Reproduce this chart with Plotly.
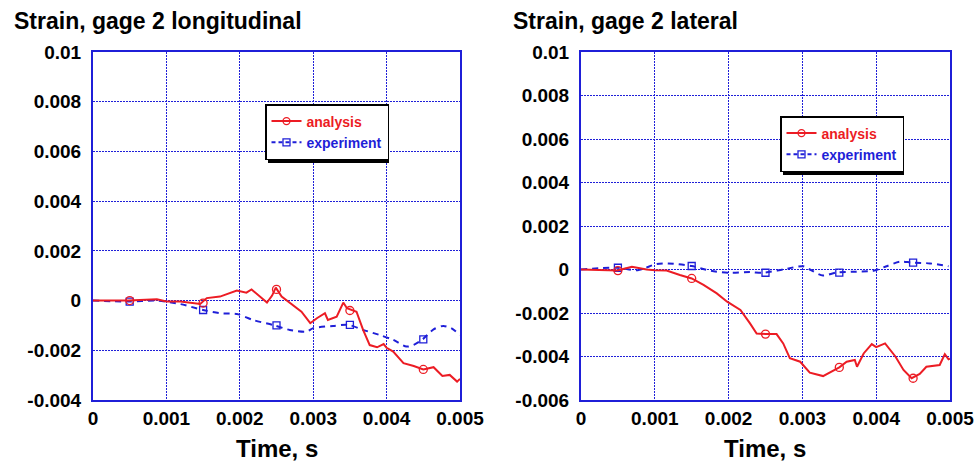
import plotly.graph_objects as go

# ---------------- data ----------------
x_tickvals = [0, 0.001, 0.002, 0.003, 0.004, 0.005]
x_ticktext = ["0", "0.001", "0.002", "0.003", "0.004", "0.005"]
yl_tickvals = [-0.004, -0.002, 0, 0.002, 0.004, 0.006, 0.008, 0.01]
yl_ticktext = ["-0.004", "-0.002", "0", "0.002", "0.004", "0.006", "0.008", "0.01"]
yr_tickvals = [-0.006, -0.004, -0.002, 0, 0.002, 0.004, 0.006, 0.008, 0.01]
yr_ticktext = ["-0.006", "-0.004", "-0.002", "0", "0.002", "0.004", "0.006", "0.008", "0.01"]

# left: gage 2 longitudinal
t_long_analysis = [0, 0.00048, 0.00087, 0.001, 0.00119, 0.00146, 0.00155, 0.00173, 0.00196, 0.00209,
                   0.00216, 0.00228, 0.00237, 0.00244, 0.00249, 0.00257, 0.00273, 0.00284, 0.00296, 0.00305,
                   0.00316, 0.0032, 0.00332, 0.00341, 0.00346, 0.0035, 0.00359, 0.00368, 0.00377, 0.00387,
                   0.00396, 0.004, 0.00409, 0.00423, 0.00437, 0.0045, 0.00464, 0.00476, 0.00486, 0.00496, 0.005]
v_long_analysis = [0, 0, 0.00005, -0.00004, -0.00004, -0.00014, 0.0001, 0.00016, 0.0004, 0.00032,
                   0.00045, 0.00016, -0.00008, 0.0002, 0.00052, 0.00016, -0.00018, -0.00045, -0.00091, -0.00071,
                   -0.00051, -0.00078, -0.00065, -0.00008, -0.00031, -0.00035, -0.00045, -0.00118, -0.00179, -0.00188,
                   -0.00175, -0.0019, -0.00205, -0.00252, -0.00263, -0.00277, -0.00268, -0.00303, -0.00299, -0.00326, -0.00315]
t_long_experiment = [0, 0.00048, 0.00087, 0.00119, 0.0015, 0.00173, 0.00196, 0.00218, 0.00245, 0.00268,
                     0.00291, 0.003, 0.00327, 0.00348, 0.00368, 0.0039, 0.00409, 0.00427, 0.00437, 0.00449,
                     0.00464, 0.00477, 0.00488, 0.005]
v_long_experiment = [0, -0.00004, 0, -0.00014, -0.00038, -0.00051, -0.00054, -0.00078, -0.00098, -0.00118,
                     -0.00125, -0.00111, -0.00102, -0.00098, -0.00118, -0.00138, -0.00158, -0.00185, -0.00178, -0.00156,
                     -0.00116, -0.00102, -0.00111, -0.00138]
t_markers = [0.0005, 0.0015, 0.0025, 0.0035, 0.0045]
m_long_analysis = [0, -0.0001, 0.00045, -0.0004, -0.00277]
m_long_experiment = [-0.00004, -0.00038, -0.001, -0.00098, -0.00156]

# right: gage 2 lateral
t_lat_analysis = [0, 0.00049, 0.00069, 0.00089, 0.001, 0.00116, 0.00134, 0.0015, 0.00166, 0.00184,
                  0.00198, 0.00216, 0.00229, 0.00238, 0.0025, 0.00265, 0.00274, 0.00283, 0.00297, 0.0031,
                  0.00328, 0.00342, 0.0035, 0.0036, 0.00371, 0.00374, 0.00383, 0.00394, 0.004, 0.00412,
                  0.00426, 0.00437, 0.00448, 0.00459, 0.00468, 0.00486, 0.00493, 0.00498, 0.005]
v_lat_analysis = [0, -0.00005, 0.00013, 0, -0.00003, -0.00005, -0.00025, -0.00041, -0.00071, -0.0011,
                  -0.00148, -0.00186, -0.00248, -0.00294, -0.00297, -0.00297, -0.0034, -0.00408, -0.00424, -0.00474,
                  -0.0049, -0.00462, -0.0045, -0.00424, -0.00416, -0.00447, -0.00386, -0.00343, -0.00357, -0.0034,
                  -0.004, -0.00462, -0.005, -0.0048, -0.00447, -0.00439, -0.00389, -0.00413, -0.0041]
t_lat_experiment = [0, 0.00049, 0.00077, 0.00102, 0.00118, 0.0015, 0.00176, 0.00203, 0.00229, 0.00247,
                    0.00274, 0.00301, 0.0031, 0.00328, 0.00346, 0.00373, 0.00396, 0.00414, 0.00432, 0.00448,
                    0.00473, 0.00498]
v_lat_experiment = [0, 0.00008, -0.00003, 0.00025, 0.00028, 0.00016, -0.00006, -0.00015, -0.00012, -0.00015,
                    0, 0.00015, 0, -0.00028, -0.00014, -0.0001, -0.00006, 0.00015, 0.00036, 0.00032,
                    0.00028, 0.00015]
m_lat_analysis = [-0.00005, -0.00041, -0.00297, -0.0045, -0.005]
m_lat_experiment = [0.00008, 0.00016, -0.00015, -0.00014, 0.00032]

series_names = ["analysis", "experiment"]
titles = ["Strain, gage 2 longitudinal", "Strain, gage 2 lateral"]
xlabel = "Time, s"

# ---------------- style ----------------
W, H = 979, 463
RED = "#ec1c24"
BLUE = "#1f1fd8"
FONT = "Liberation Sans, Arial, sans-serif"

def px(x):
    return x / W

def py(y):
    return 1 - y / H

fig = go.Figure()

panels = [
    dict(xa="x", ya="y", legend="legend",
         ta=t_long_analysis, va=v_long_analysis, te=t_long_experiment, ve=v_long_experiment,
         ma=m_long_analysis, me=m_long_experiment),
    dict(xa="x2", ya="y2", legend="legend2",
         ta=t_lat_analysis, va=v_lat_analysis, te=t_lat_experiment, ve=v_lat_experiment,
         ma=m_lat_analysis, me=m_lat_experiment),
]

for p in panels:
    fig.add_trace(go.Scatter(x=p["te"], y=p["ve"], mode="lines", xaxis=p["xa"], yaxis=p["ya"],
                             line=dict(color=BLUE, width=2, dash="6px,5px", shape="spline", smoothing=0.8),
                             showlegend=False, hoverinfo="skip"))
    fig.add_trace(go.Scatter(x=t_markers, y=p["me"], mode="markers", xaxis=p["xa"], yaxis=p["ya"],
                             marker=dict(symbol="square-open", size=7, color=BLUE, line=dict(width=1.3)),
                             showlegend=False, hoverinfo="skip"))
    fig.add_trace(go.Scatter(x=p["ta"], y=p["va"], mode="lines", xaxis=p["xa"], yaxis=p["ya"],
                             line=dict(color=RED, width=2),
                             showlegend=False, hoverinfo="skip"))
    fig.add_trace(go.Scatter(x=t_markers, y=p["ma"], mode="markers", xaxis=p["xa"], yaxis=p["ya"],
                             marker=dict(symbol="circle-open", size=8, color=RED, line=dict(width=1.3)),
                             showlegend=False, hoverinfo="skip"))
    fig.add_trace(go.Scatter(x=[None], y=[None], mode="lines+markers",
                             name=f"<span style='color:{RED}'>{series_names[0]}</span>",
                             xaxis=p["xa"], yaxis=p["ya"], legend=p["legend"],
                             line=dict(color=RED, width=2),
                             marker=dict(symbol="circle-open", size=7, color=RED, line=dict(width=1.3))))
    fig.add_trace(go.Scatter(x=[None], y=[None], mode="lines+markers",
                             name=f"<span style='color:{BLUE}'>{series_names[1]}</span>",
                             xaxis=p["xa"], yaxis=p["ya"], legend=p["legend"],
                             line=dict(color=BLUE, width=2, dash="4px,3px"),
                             marker=dict(symbol="square-open", size=7, color=BLUE, line=dict(width=1.3))))

axis_common = dict(showgrid=True, gridcolor=BLUE, griddash="2px,1px", gridwidth=1.2,
                   showline=True, linecolor=BLUE, linewidth=2, mirror=True, automargin=False,
                   zeroline=False, ticks="", tickfont=dict(family=FONT, size=19, color="black", weight="bold"),
                   fixedrange=True)

xl_dom = [px(93), px(460)]
xr_dom = [px(581), px(950)]
y_dom = [py(400), py(52)]

# legend boxes (top-left corner in pixels) and approximate rendered size for the drop shadow
legend_pos = [(265, 104), (780, 116)]
LEG_W, LEG_H, SH = 121, 56, 3

legend_font = dict(family=FONT, size=14, weight="bold")
fig.update_layout(
    width=W, height=H,
    margin=dict(l=0, r=0, t=0, b=0, pad=0, autoexpand=False),
    paper_bgcolor="white", plot_bgcolor="white",
    xaxis=dict(domain=xl_dom, anchor="y", range=[0, 0.005], tickvals=x_tickvals, ticktext=x_ticktext, **axis_common),
    yaxis=dict(domain=y_dom, anchor="x", range=[-0.004, 0.01], tickvals=yl_tickvals, ticktext=yl_ticktext,
               ticklabelstandoff=6, **axis_common),
    xaxis2=dict(domain=xr_dom, anchor="y2", range=[0, 0.005], tickvals=x_tickvals, ticktext=x_ticktext, **axis_common),
    yaxis2=dict(domain=y_dom, anchor="x2", range=[-0.006, 0.01], tickvals=yr_tickvals, ticktext=yr_ticktext,
                ticklabelstandoff=6, **axis_common),
    legend=dict(x=px(legend_pos[0][0]), y=py(legend_pos[0][1]), xanchor="left", yanchor="top",
                bgcolor="white", bordercolor="black", borderwidth=1.5,
                font=legend_font, tracegroupgap=0, itemwidth=30),
    legend2=dict(x=px(legend_pos[1][0]), y=py(legend_pos[1][1]), xanchor="left", yanchor="top",
                 bgcolor="white", bordercolor="black", borderwidth=1.5,
                 font=legend_font, tracegroupgap=0, itemwidth=30),
    showlegend=True,
)

shapes = []
for lx, ly in legend_pos:
    shapes.append(dict(type="rect", xref="paper", yref="paper", layer="above",
                       x0=px(lx + SH), x1=px(lx + LEG_W + SH), y0=py(ly + SH), y1=py(ly + LEG_H + SH),
                       fillcolor="black", line=dict(width=0)))
fig.update_layout(shapes=shapes)

annots = []
for title, xpos in zip(titles, [12, 511]):
    annots.append(dict(text=title, x=px(xpos), y=py(21), xref="paper", yref="paper",
                       xanchor="left", yanchor="middle", showarrow=False,
                       font=dict(family=FONT, size=23, color="black", weight="bold")))
for dom in [xl_dom, xr_dom]:
    annots.append(dict(text=xlabel, x=(dom[0] + dom[1]) / 2, y=py(448), xref="paper", yref="paper",
                       xanchor="center", yanchor="middle", showarrow=False,
                       font=dict(family=FONT, size=24, color="black", weight="bold")))
fig.update_layout(annotations=annots)

fig.write_html("out.html")
